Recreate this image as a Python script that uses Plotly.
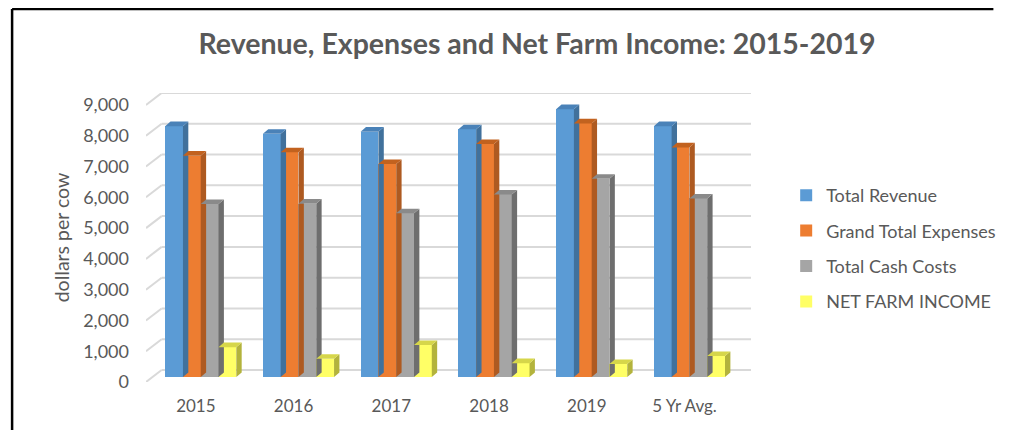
import plotly.graph_objects as go

categories = ["2015", "2016", "2017", "2018", "2019", "5 Yr Avg."]
series_names = ["Total Revenue", "Grand Total Expenses", "Total Cash Costs", "NET FARM INCOME"]
total_revenue = [8150, 7900, 7970, 8050, 8700, 8150]
grand_total_expenses = [7190, 7300, 6920, 7570, 8240, 7460]
total_cash_costs = [5620, 5630, 5320, 5930, 6440, 5800]
net_farm_income = [970, 590, 1040, 450, 420, 680]
y_ticks = [0, 1000, 2000, 3000, 4000, 5000, 6000, 7000, 8000, 9000]

series_values = [total_revenue, grand_total_expenses, total_cash_costs, net_farm_income]
front_colors = ["#5B9BD5", "#ED7D31", "#A5A5A5", "#FFFF66"]
side_colors = ["#41719C", "#AE5A21", "#6E6E6E", "#B3B33C"]
top_colors = ["#4A82B8", "#C2621F", "#8A8A8A", "#D6D64A"]

# geometry: page body has an 8px margin, so figure coords = screen - 8
OFF = 8
W, H = 1013 - OFF, 430 - OFF
L = 146 - OFF
T = 93 - OFF
R = W - (765 - OFF)
B = H - (382 - OFF)
plot_w = W - L - R
plot_h = H - T - B
x_range = [-0.56, -0.56 + plot_w / 100.0]
upp = 9389 / plot_h  # y-units per pixel
y_range = [-162, 9227]
front_off = -5 * upp
back_off = 7 * upp
bar_w = 0.182
dx = 0.055
dy = 4.6 * upp
grid_color = "#D9D9D9"
text_color = "#595959"
font_family = "Lato, 'Open Sans', sans-serif"

fig = go.Figure()
xs = list(range(len(categories)))
for i, (name, vals) in enumerate(zip(series_names, series_values)):
    fig.add_trace(go.Bar(
        x=xs, y=vals, name=name, marker=dict(color=front_colors[i], line=dict(width=0)),
        legendgroup=name, width=bar_w,
        offset=(i - 2) * bar_w,
    ))

shapes = []
# back wall gridlines + floor diagonals
x_back = x_range[0] + 16 / 100.0
for t in y_ticks:
    shapes.append(dict(type="line", xref="x", yref="y", x0=x_back, x1=x_range[1],
                       y0=t + back_off, y1=t + back_off, line=dict(color=grid_color, width=2), layer="below"))
    shapes.append(dict(type="line", xref="x", yref="y", x0=x_range[0], x1=x_back,
                       y0=t + front_off, y1=t + back_off, line=dict(color=grid_color, width=2), layer="below"))

# 3D faces for bars
for i, vals in enumerate(series_values):
    for k, v in enumerate(vals):
        xl = k + (i - 2) * bar_w
        xr = xl + bar_w
        side = f"M {xr} 0 L {xr + dx} {dy} L {xr + dx} {v + dy} L {xr} {v} Z"
        top = f"M {xl} {v} L {xl + dx} {v + dy} L {xr + dx} {v + dy} L {xr} {v} Z"
        shapes.append(dict(type="path", xref="x", yref="y", path=side,
                           fillcolor=side_colors[i], line=dict(width=0), layer="above"))
        shapes.append(dict(type="path", xref="x", yref="y", path=top,
                           fillcolor=top_colors[i], line=dict(width=0), layer="above"))

# chart frame (black border)
def px_x(p):
    return (p - OFF - L) / plot_w
def px_y(p):
    return 1 - (p - OFF - T) / plot_h
shapes.append(dict(type="line", xref="paper", yref="paper", x0=px_x(9), x1=px_x(1013),
                   y0=px_y(9), y1=px_y(9), line=dict(color="black", width=2.5)))
shapes.append(dict(type="line", xref="paper", yref="paper", x0=px_x(9), x1=px_x(9),
                   y0=px_y(9), y1=px_y(430), line=dict(color="black", width=2.5)))

fig.update_layout(
    width=W, height=H,
    margin=dict(l=L, r=R, t=T, b=B, pad=0),
    paper_bgcolor="white", plot_bgcolor="white",
    barmode="overlay",
    title=dict(text="<b>Revenue, Expenses and Net Farm Income: 2015-2019</b>",
               x=((198 + 876) / 2 - OFF) / W, xanchor="center", y=1 - (44 - OFF) / H, yanchor="middle",
               font=dict(family=font_family, size=28.5, color=text_color)),
    xaxis=dict(range=x_range, tickvals=[k - 0.05 for k in xs], ticktext=categories,
               showgrid=False, zeroline=False, showline=False, ticks="",
               tickfont=dict(family=font_family, size=17, color=text_color),
               ticklabelstandoff=12),
    yaxis=dict(range=y_range, tickvals=[t + front_off for t in y_ticks],
               ticktext=[f"{t:,}" for t in y_ticks],
               showgrid=False, zeroline=False, showline=False, ticks="",
               tickfont=dict(family=font_family, size=18, color=text_color),
               ticklabelstandoff=16,
               title=dict(text="dollars per cow", standoff=8,
                          font=dict(family=font_family, size=19.5, color=text_color))),
    legend=dict(x=px_x(801), y=px_y(177), xanchor="left", yanchor="top",
                font=dict(family=font_family, size=18, color=text_color),
                tracegroupgap=9, bgcolor="rgba(0,0,0,0)"),
    shapes=shapes,
    bargap=0,
)

fig.write_html("out.html")
